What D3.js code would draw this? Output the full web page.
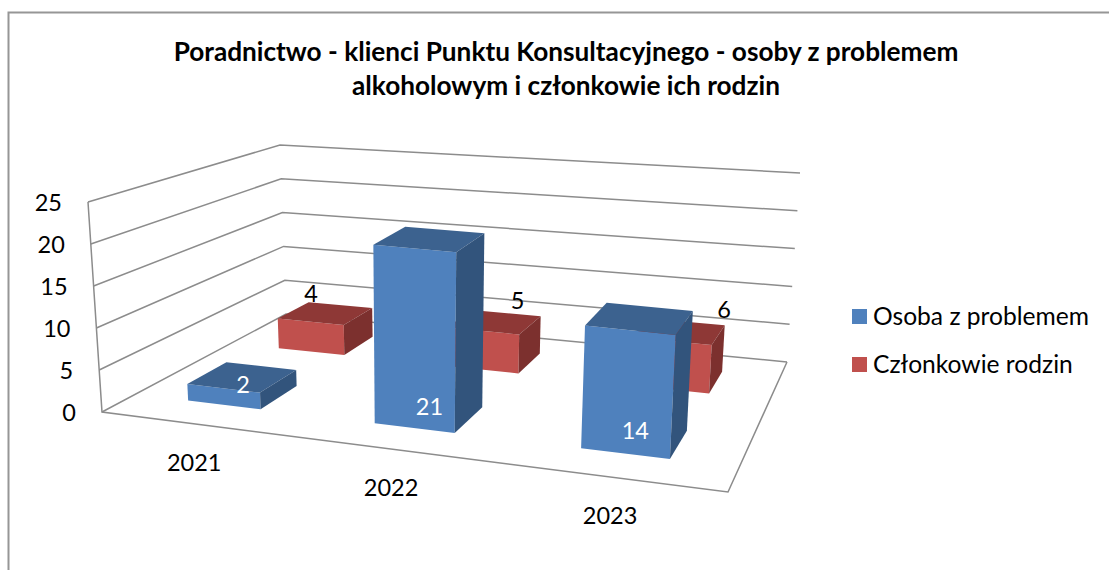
<!DOCTYPE html>
<html><head><meta charset="utf-8">
<script src="https://cdn.jsdelivr.net/npm/d3@7"></script>
<style>html,body{margin:0;padding:0;background:#fff}svg{display:block}text{font-family:Lato,Carlito,sans-serif}</style>
</head><body><svg id="c" width="1109" height="570"></svg>
<script>
const titleLines = ["Poradnictwo - klienci Punktu Konsultacyjnego - osoby z problemem","alkoholowym i członkowie ich rodzin"];
const categories = ["2021","2022","2023"];
const seriesNames = ["Osoba z problemem","Członkowie rodzin"];
const osobaValues = [2,21,14];
const czlonkowieValues = [4,5,6];
const yTicks = [0,5,10,15,20,25];

const svg = d3.select("#c");
const W=1109,H=570;
const gray="#8c8c8c";
const palette=[{front:"#4f81bd",top:"#3c628f",side:"#32547c",label:"#fff"},{front:"#c0504d",top:"#8e3836",side:"#7c302e",label:"#000"}];

// scene scales: category and series bands on a unit floor, value on a unit height
const xBand=d3.scaleBand().domain(categories).range([0,1]).paddingInner(0.6).paddingOuter(0.3);
const zBand=d3.scaleBand().domain(seriesNames).range([0,1]).paddingInner(0.6).paddingOuter(0.3);
const yVal=d3.scaleLinear().domain([0,25]).range([0,1]);

// perspective: floor plane homography, plus a full-height vector that varies across the floor
function quad(p00,p10,p11,p01){
  const [x0,y0]=p00,[x1,y1]=p10,[x2,y2]=p11,[x3,y3]=p01;
  const dx1=x1-x2,dx2=x3-x2,sx=x0-x1+x2-x3,dy1=y1-y2,dy2=y3-y2,sy=y0-y1+y2-y3;
  const den=dx1*dy2-dx2*dy1;
  const g=(sx*dy2-dx2*sy)/den,h=(dx1*sy-sx*dy1)/den;
  const a=x1-x0+g*x1,b=x3-x0+h*x3,d=y1-y0+g*y1,e=y3-y0+h*y3;
  return (u,v)=>{const k=g*u+h*v+1;return [(a*u+b*v+x0)/k,(d*u+e*v+y0)/k];};
}
const floorPlane=quad([102,412],[728,492],[787,362],[286,314]);
const riseFL=[-14,-210],riseFR=[13,-230],riseBR=[13,-189],riseBL=[-6,-169];
function rise(u,v,i){return (riseFL[i]*(1-u)+riseFR[i]*u)*(1-v)+(riseBL[i]*(1-u)+riseBR[i]*u)*v;}
function project(u,v,t){const a=floorPlane(u,v);return [a[0]+rise(u,v,0)*t,a[1]+rise(u,v,1)*t];}

// frame
svg.append("path").attr("d",`M8.5,${H+2}V12.5H${W+2}`).attr("fill","none").attr("stroke","#969696").attr("stroke-width",2);

// title
svg.append("g").selectAll("text").data(titleLines).join("text")
 .attr("x",566).attr("y",(d,i)=>61+i*34).attr("text-anchor","middle")
 .attr("font-size",26.2).attr("font-weight",700).attr("fill","#000").text(d=>d);

// walls
const line=d3.line();
const walls=svg.append("g").attr("fill","none").attr("stroke",gray).attr("stroke-width",1.5);
yTicks.forEach(t=>{const w=yVal(t);
  walls.append("path").attr("d",line([project(0,0,w),project(0,1,w),project(1,1,w)]));
});
walls.append("path").attr("d",line([project(0,0,yVal(25)),project(0,0,0),project(1,0,0),project(1,1,0)]));

// axis labels
svg.append("g").selectAll("text").data(yTicks).join("text")
 .attr("x",t=>project(0,0,yVal(t))[0]-26).attr("y",t=>project(0,0,yVal(t))[1]+1)
 .attr("dy","0.36em").attr("text-anchor","end").attr("font-size",23.5).attr("fill","#000").text(d=>d);
svg.append("g").selectAll("text").data(categories).join("text")
 .attr("x",c=>project(xBand(c)+xBand.bandwidth()/2,0,0)[0]+1)
 .attr("y",c=>project(xBand(c)+xBand.bandwidth()/2,0,0)[1]+39)
 .attr("dy","0.36em").attr("text-anchor","middle").attr("font-size",23.5).attr("fill","#000").text(d=>d);

// bars, back series first
const rows=[{s:1,vals:czlonkowieValues},{s:0,vals:osobaValues}];
const poly=pts=>"M"+pts.map(p=>p.join(",")).join("L")+"Z";
rows.forEach(r=>{
  const name=seriesNames[r.s],col=palette[r.s];
  const v0=zBand(name),v1=v0+zBand.bandwidth();
  const g=svg.append("g");
  r.vals.forEach((val,i)=>{
    const u0=xBand(categories[i]),u1=u0+xBand.bandwidth(),t=yVal(val);
    g.append("path").attr("d",poly([project(u0,v0,0),project(u1,v0,0),project(u1,v0,t),project(u0,v0,t)])).attr("fill",col.front);
    g.append("path").attr("d",poly([project(u0,v0,t),project(u1,v0,t),project(u1,v1,t),project(u0,v1,t)])).attr("fill",col.top);
    g.append("path").attr("d",poly([project(u1,v0,0),project(u1,v1,0),project(u1,v1,t),project(u1,v0,t)])).attr("fill",col.side);
  });
});

// value labels
const redLabelX=d3.scalePoint().domain(categories).range([311,724]);
rows.forEach(r=>{
  const name=seriesNames[r.s],col=palette[r.s];
  r.vals.forEach((val,i)=>{
    const u=xBand(categories[i])+xBand.bandwidth()/2;
    let p;
    if(r.s===0){p=project(u,zBand(name)+zBand.bandwidth()/2,yVal(1));}
    else{const q=project(u,zBand(name)+zBand.bandwidth(),yVal(val));p=[redLabelX(categories[i]),q[1]-12];}
    svg.append("text").attr("x",p[0]).attr("y",p[1]).attr("dy","0.36em").attr("text-anchor","middle")
      .attr("font-size",23.5).attr("fill",col.label).text(val);
  });
});

// legend
const leg=svg.append("g").selectAll("g").data(seriesNames).join("g").attr("transform",(d,i)=>`translate(852,${309+i*48})`);
leg.append("rect").attr("width",15).attr("height",15).attr("fill",(d,i)=>palette[i].front);
leg.append("text").attr("x",21).attr("y",7).attr("dy","0.36em").attr("font-size",24.6).attr("fill","#000").text(d=>d);
</script></body></html>
